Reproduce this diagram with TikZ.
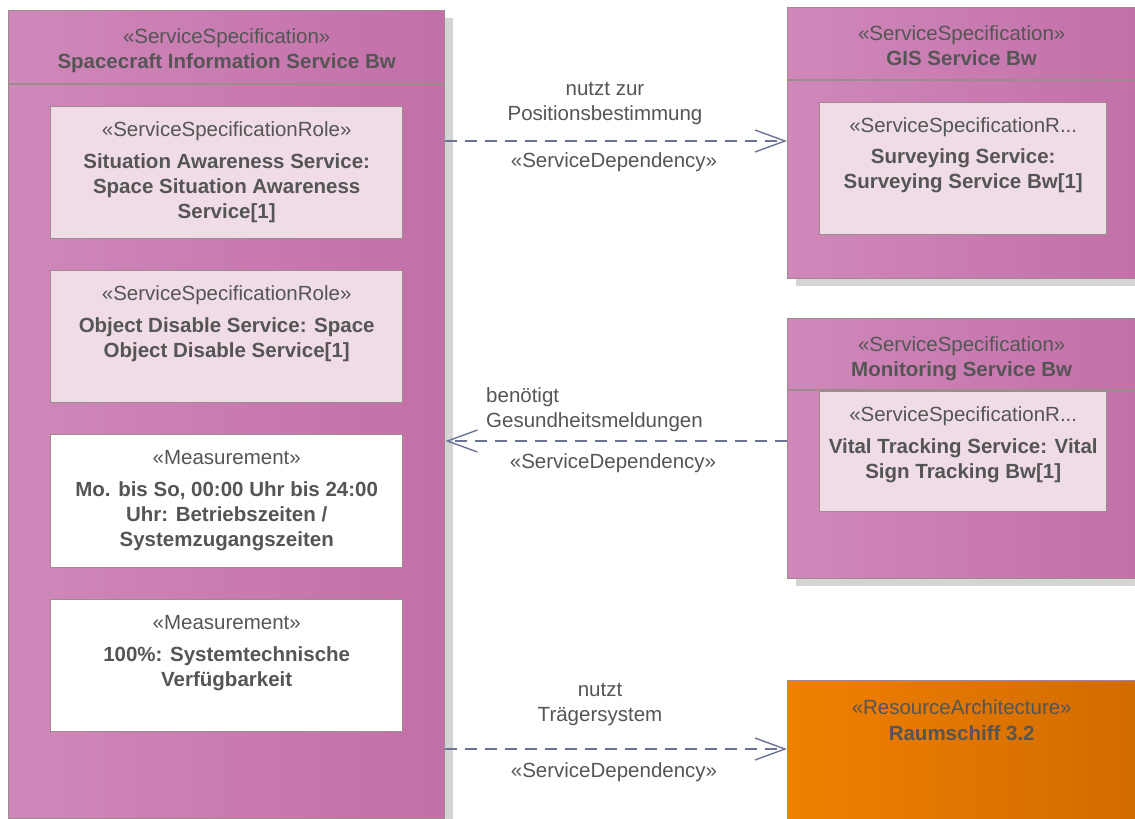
\documentclass[tikz,border=0pt]{standalone}
\usepackage{fontspec}
\setmainfont{Liberation Sans}
\usetikzlibrary{arrows.meta,shadows}
\definecolor{pinkL}{HTML}{CF88BA}
\definecolor{pinkR}{HTML}{C36FA8}
\definecolor{rolefill}{HTML}{F0DCE7}
\definecolor{orgL}{HTML}{F08000}
\definecolor{orgR}{HTML}{D06B00}
\definecolor{bord}{HTML}{9C8C8C}
\definecolor{txtgrey}{HTML}{555555}
\definecolor{conn}{HTML}{6A7394}
\definecolor{shade}{HTML}{D4D4D4}
\newcommand{\dfont}{\fontsize{20.5}{25}\selectfont}
\tikzset{
  bd/.style={draw=bord, line width=1.4pt},
  spec/.style={bd, anchor=north west, inner sep=0pt, left color=pinkL, right color=pinkR,
    drop shadow={shadow xshift=8pt, shadow yshift=-7pt, fill=shade, opacity=1}},
  resarch/.style={bd, anchor=north west, inner sep=0pt, left color=orgL, right color=orgR},
  rolebox/.style={bd, anchor=north west, inner sep=0pt, fill=rolefill},
  measbox/.style={bd, anchor=north west, inner sep=0pt, fill=white},
  txt/.style={anchor=north, align=center, inner sep=0pt, font=\dfont, text=txtgrey, yshift=-12.5pt},
  headtxt/.style={txt, yshift=-3pt},
  lbl/.style={inner sep=0pt, font=\dfont, text=txtgrey},
  dep/.style={draw=conn, line width=1.4pt, dash pattern=on 12pt off 8pt,
    -{Straight Barb[length=30pt,width=22pt,line width=1.4pt]}}
}
\begin{document}
\begin{tikzpicture}[x=1pt,y=-1pt]
\useasboundingbox (0,0) rectangle (1135,819);

% service specification on the left
\node[spec, minimum width=436pt, minimum height=808pt] (sis) at (8,10) {};
\draw[bd] ([yshift=-74pt]sis.north west) -- ([yshift=-74pt]sis.north east);
\node[headtxt] (sist) at (sis.north) {\strut«ServiceSpecification»\\\textbf{Spacecraft Information Service Bw}};

\node[rolebox, minimum width=352pt, minimum height=132pt] (sar) at (50,106) {};
\node[txt] (sart) at (sar.north) {\strut«ServiceSpecificationRole»\\[7pt]\textbf{Situation Awareness Service:}\\\textbf{Space Situation Awareness}\\\textbf{Service[1]}};

\node[rolebox, minimum width=352pt, minimum height=132pt] (odr) at (50,270) {};
\node[txt] (odrt) at (odr.north) {\strut«ServiceSpecificationRole»\\[7pt]\textbf{Object Disable Service: Space}\\\textbf{Object Disable Service[1]}};

\node[measbox, minimum width=352pt, minimum height=133pt] (ms1) at (50,434) {};
\node[txt] (ms1t) at (ms1.north) {\strut«Measurement»\\[7pt]\textbf{Mo. bis So, 00:00 Uhr bis 24:00}\\\textbf{Uhr: Betriebszeiten /}\\\textbf{Systemzugangszeiten}};

\node[measbox, minimum width=352pt, minimum height=132pt] (ms2) at (50,599) {};
\node[txt] (ms2t) at (ms2.north) {\strut«Measurement»\\[7pt]\textbf{100\%: Systemtechnische}\\\textbf{Verfügbarkeit}};

% GIS service
\node[spec, minimum width=360pt, minimum height=271pt] (gis) at (787,7) {};
\draw[bd] ([yshift=-73pt]gis.north west) -- ([yshift=-73pt]gis.north east);
\node[headtxt] (gist) at ([xshift=-6pt]gis.north) {\strut«ServiceSpecification»\\\textbf{GIS Service Bw}};
\node[rolebox, minimum width=287pt, minimum height=132pt] (svr) at (819,102) {};
\node[txt] (svrt) at (svr.north) {\strut«ServiceSpecificationR...\\[6pt]\textbf{Surveying Service:}\\\textbf{Surveying Service Bw[1]}};

% Monitoring service
\node[spec, minimum width=360pt, minimum height=260pt] (mon) at (787,318) {};
\draw[bd] ([yshift=-72pt]mon.north west) -- ([yshift=-72pt]mon.north east);
\node[headtxt] (mont) at ([xshift=-6pt]mon.north) {\strut«ServiceSpecification»\\\textbf{Monitoring Service Bw}};
\node[rolebox, minimum width=287pt, minimum height=120pt] (vtr) at (819,391) {};
\node[txt] (vtrt) at (vtr.north) {\strut«ServiceSpecificationR...\\[7pt]\textbf{Vital Tracking Service: Vital}\\\textbf{Sign Tracking Bw[1]}};

% resource architecture
\node[resarch, minimum width=360pt, minimum height=145pt] (rs) at (787,680) {};
\node[headtxt, yshift=-1pt] (rst) at ([xshift=-6pt]rs.north) {\strut«ResourceArchitecture»\\[1pt]\textbf{Raumschiff 3.2}};

% dependencies
\coordinate (y1) at (0,141);
\coordinate (y2) at (0,441);
\coordinate (y3) at (0,749);
\draw[dep] (sis.east |- y1) -- (gis.west |- y1);
\draw[dep] (mon.west |- y2) -- (sis.east |- y2);
\draw[dep] (sis.east |- y3) -- (rs.west |- y3);

\node[lbl, align=center] (l1a) at (605,103) {nutzt zur\\Positionsbestimmung};
\node[lbl] (l1b) at (614,162) {«ServiceDependency»};
\node[lbl, align=left, anchor=west] (l2a) at (486,410) {benötigt\\Gesundheitsmeldungen};
\node[lbl] (l2b) at (613,463) {«ServiceDependency»};
\node[lbl, align=center] (l3a) at (600,704) {nutzt\\Trägersystem};
\node[lbl] (l3b) at (614,772) {«ServiceDependency»};
\end{tikzpicture}
\end{document}
